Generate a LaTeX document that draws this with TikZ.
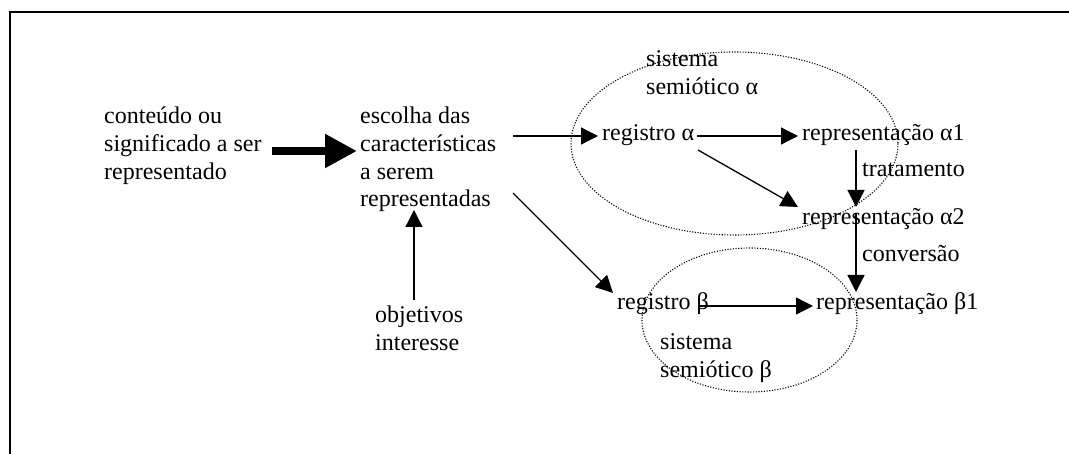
\documentclass[tikz,border=0pt]{standalone}
\usepackage{fontspec}
\setmainfont{Liberation Serif}
\usetikzlibrary{arrows.meta}
\newcommand{\mlines}[1]{\begin{tabular}[t]{@{}l@{}}#1\end{tabular}}
\begin{document}
\begin{tikzpicture}[x=1pt,y=-1pt,
  txt/.style={anchor=base west,inner sep=0pt,font=\fontsize{24}{27.6}\selectfont},
  arr/.style={line width=1.3pt,-{Triangle[length=17pt,width=17pt]}},
  bigarr/.style={line width=8pt,-{Triangle[length=32pt,width=32pt]}},
  semsys/.style={line width=1.1pt,dash pattern=on 1.1pt off 1.6pt},
  frame/.style={line width=2pt}]
\useasboundingbox (0,0) rectangle (1069,454);
\draw[frame] (10,454) -- (10,12) -- (1069,12);

\node[txt] (cont) at (104,124) {\mlines{conteúdo ou\\significado a ser\\representado}};
\node[txt] (esc) at (360,124) {\mlines{escolha das\\características\\a serem\\representadas}};
\node[txt] (obj) at (375,323) {\mlines{objetivos\\interesse}};
\node[txt] (sisA) at (646,67) {\mlines{sistema\\semiótico α}};
\node[txt] (regA) at (602,141) {registro α};
\node[txt] (repA1) at (802,141) {representação α1};
\node[txt] (trat) at (862,177) {tratamento};
\node[txt] (repA2) at (802,225) {representação α2};
\node[txt] (conv) at (862,262) {conversão};
\node[txt] (regB) at (617,310) {registro β};
\node[txt] (repB1) at (816,310) {representação β1};
\node[txt] (sisB) at (660,350) {\mlines{sistema\\semiótico β}};

\draw[semsys] (734.5,143.5) ellipse [x radius=163.5, y radius=91.5];
\draw[semsys] (749.5,320) ellipse [x radius=107.5, y radius=72];

\draw[bigarr] ([shift={(168,27)}]cont.base west) -- ([shift={(-3,27)}]esc.base west);
\draw[arr] ([shift={(153,12)}]esc.base west) -- ([shift={(-4,-5)}]regA.base west);
\draw[arr] ([shift={(39,-23)}]obj.base west) -- ([shift={(54,86)}]esc.base west);
\draw[arr] ([shift={(153,69)}]esc.base west) -- ([shift={(-4,-17)}]regB.base west);
\draw[arr] ([shift={(95,-5)}]regA.base west) -- ([shift={(-4,-5)}]repA1.base west);
\draw[arr] ([shift={(96,9)}]regA.base west) -- ([shift={(-4,-18)}]repA2.base west);
\draw[arr] ([shift={(54,9)}]repA1.base west) -- ([shift={(54,-18)}]repA2.base west);
\draw[arr] ([shift={(54,-12)}]repA2.base west) -- ([shift={(40,-18)}]repB1.base west);
\draw[arr] ([shift={(83,-4)}]regB.base west) -- ([shift={(-3,-4)}]repB1.base west);
\end{tikzpicture}
\end{document}
